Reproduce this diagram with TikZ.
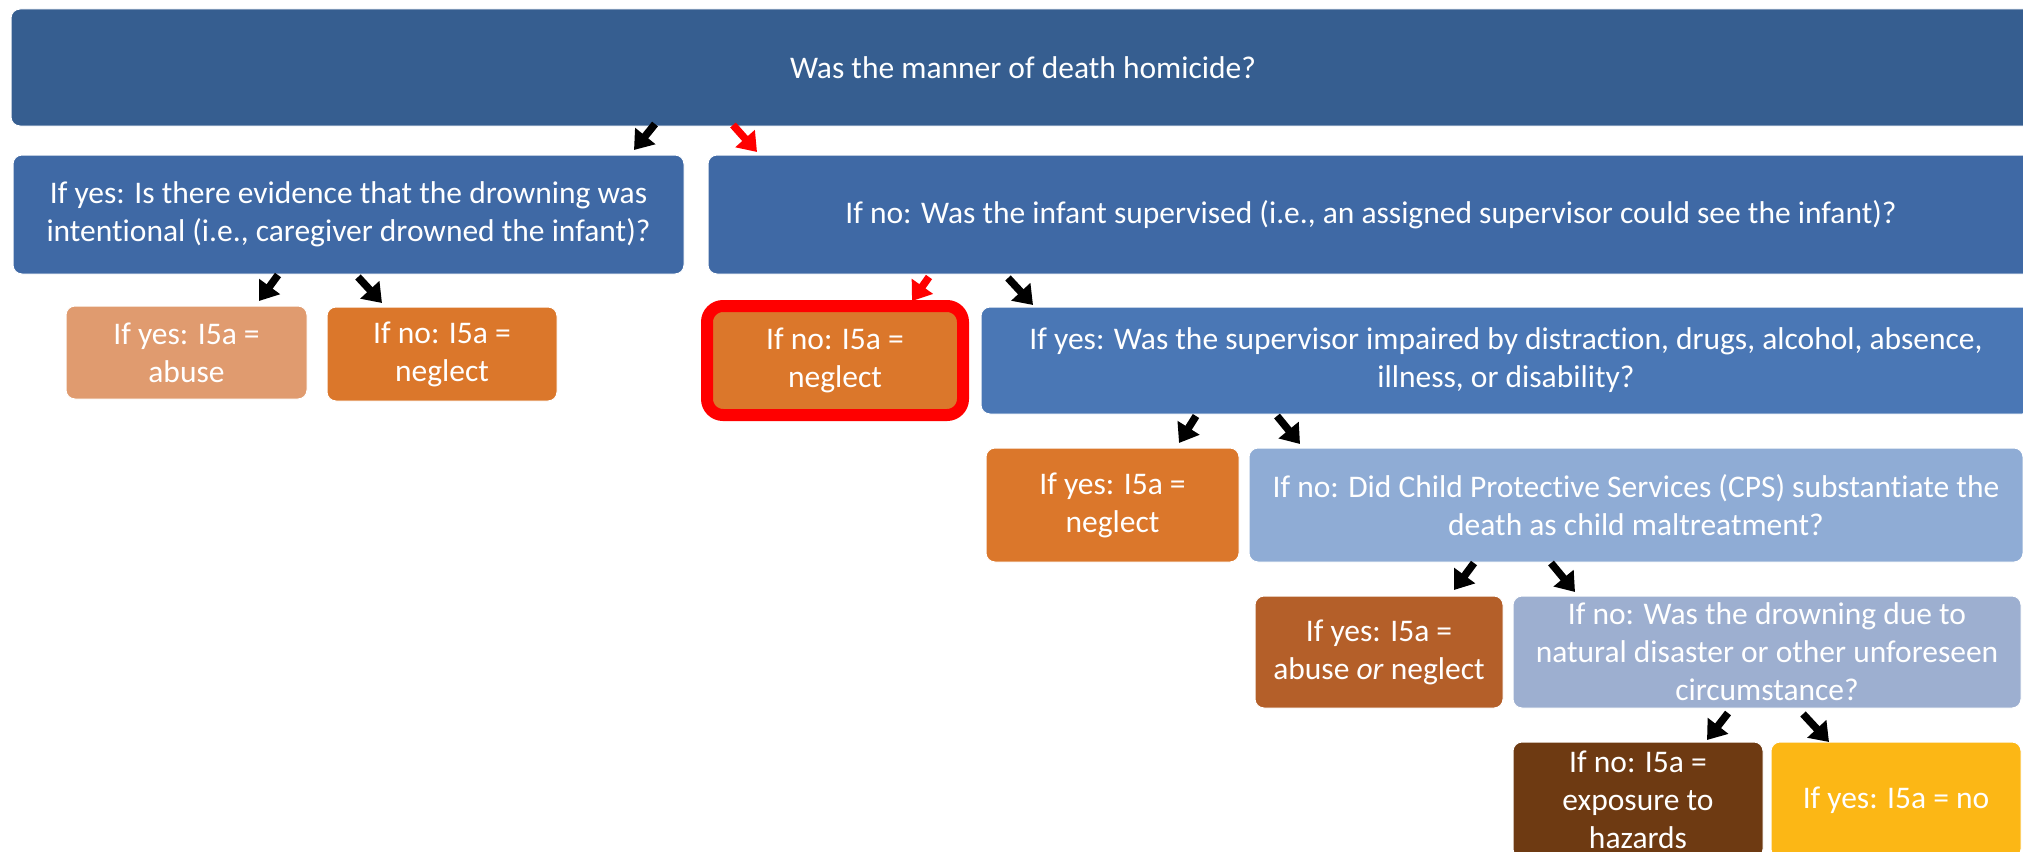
\documentclass[tikz,border=0pt]{standalone}
\usepackage{fontspec}
\setmainfont[Ligatures=NoCommon]{Carlito}
\usetikzlibrary{arrows.meta}
\definecolor{cTop}{RGB}{54,94,144}
\definecolor{cLtwo}{RGB}{63,105,165}
\definecolor{cSup}{RGB}{74,119,181}
\definecolor{cCps}{RGB}{143,172,213}
\definecolor{cNat}{RGB}{157,175,208}
\definecolor{cAbuse}{RGB}{224,155,111}
\definecolor{cNeg}{RGB}{219,119,43}
\definecolor{cAon}{RGB}{180,95,41}
\definecolor{cExp}{RGB}{110,58,18}
\definecolor{cNo}{RGB}{252,183,21}
\definecolor{cRed}{RGB}{255,0,0}
\tikzset{
  box/.style={anchor=north west, inner sep=0pt, outer sep=0pt, rounded corners=9pt,
    draw=white, line width=1pt, text=white, align=center,
    font=\fontsize{31.5}{38}\selectfont},
  arr/.style={line width=7.5pt, line cap=butt, -{Triangle[width=25pt,length=18pt]}},
  blk/.style={arr, draw=black},
  rd/.style={arr, draw=cRed},
}
\begin{document}
\begin{tikzpicture}[x=1pt,y=-1pt]
\useasboundingbox (0,0) rectangle (2023,851);
\fill[white] (0,0) rectangle (2023,851);
\node[box, fill=cTop, minimum width=2024pt, minimum height=117pt] (top) at (11,9) {\raisebox{-3pt}{Was the manner of death homicide?}};
\node[box, fill=cLtwo, minimum width=671pt, minimum height=119pt] (ltwoa) at (13,155)
  {If yes: Is there evidence that the drowning was\\intentional (i.e., caregiver drowned the infant)?};
\node[box, fill=cLtwo, minimum width=1326pt, minimum height=119pt] (ltwob) at (708,155)
  {If no: Was the infant supervised (i.e., an assigned supervisor could see the infant)?};
\node[box, fill=cAbuse, minimum width=241pt, minimum height=93pt] (abuse) at (66,306)
  {If yes: I5a =\\abuse};
\node[box, fill=cNeg, minimum width=230pt, minimum height=94pt] (negone) at (327,307)
  {If no: I5a =\\neglect};
\node[box, fill=cNeg, draw=cRed, line width=12pt, rounded corners=16pt, minimum width=256pt, minimum height=109pt] (negred) at (707,306)
  {If no: I5a =\\neglect};
\node[box, fill=cSup, minimum width=1050pt, minimum height=107pt] (sup) at (981,307)
  {If yes: Was the supervisor impaired by distraction, drugs, alcohol, absence,\\illness, or disability?};
\node[box, fill=cNeg, minimum width=253pt, minimum height=114pt] (negtwo) at (986,448)
  {If yes: I5a =\\neglect};
\node[box, fill=cCps, minimum width=774pt, minimum height=114pt] (cps) at (1249,448)
  {If no: Did Child Protective Services (CPS) substantiate the\\death as child maltreatment?};
\node[box, fill=cAon, minimum width=248pt, minimum height=112pt] (aon) at (1255,596)
  {If yes: I5a =\\abuse \textit{or} neglect};
\node[box, fill=cNat, minimum width=508pt, minimum height=112pt] (nat) at (1513,596)
  {If no: Was the drowning due to\\natural disaster or other unforeseen\\circumstance?};
\node[box, fill=cExp, minimum width=250pt, minimum height=116pt] (expo) at (1513,742)
  {If no: I5a =\\exposure to\\hazards};
\node[box, fill=cNo, minimum width=250pt, minimum height=116pt] (no) at (1771,742)
  {If yes: I5a = no};
% connectors
\draw[blk] ([xshift=644pt,yshift=2pt]top.south west) -- ([xshift=621pt,yshift=5pt]ltwoa.north west);
\draw[rd]  ([xshift=722pt,yshift=1pt]top.south west) -- ([xshift=49pt,yshift=3pt]ltwob.north west);
\draw[blk] ([xshift=265pt,yshift=-1pt]ltwoa.south west) -- ([xshift=193pt,yshift=5pt]abuse.north west);
\draw[blk] ([xshift=345pt,yshift=-3pt]ltwoa.south west) -- ([xshift=55pt,yshift=4pt]negone.north west);
\draw[rd]  ([xshift=221pt,yshift=-3pt]ltwob.south west) -- ([xshift=205pt,yshift=5pt]negred.north west);
\draw[blk] ([xshift=300pt,yshift=-4pt]ltwob.south west) -- ([xshift=52pt,yshift=2pt]sup.north west);
\draw[blk] ([xshift=215pt,yshift=-2pt]sup.south west) -- ([xshift=193pt,yshift=5pt]negtwo.north west);
\draw[blk] ([xshift=296pt,yshift=-2pt]sup.south west) -- ([xshift=51pt,yshift=4pt]cps.north west);
\draw[blk] ([xshift=225pt,yshift=-1pt]cps.south west) -- ([xshift=199pt,yshift=6pt]aon.north west);
\draw[blk] ([xshift=302pt,yshift=-1pt]cps.south west) -- ([xshift=62pt,yshift=4pt]nat.north west);
\draw[blk] ([xshift=215pt,yshift=-5pt]nat.south west) -- ([xshift=194pt,yshift=2pt]expo.north west);
\draw[blk] ([xshift=290pt,yshift=-6pt]nat.south west) -- ([xshift=58pt,yshift=0pt]no.north west);
\end{tikzpicture}
\end{document}
